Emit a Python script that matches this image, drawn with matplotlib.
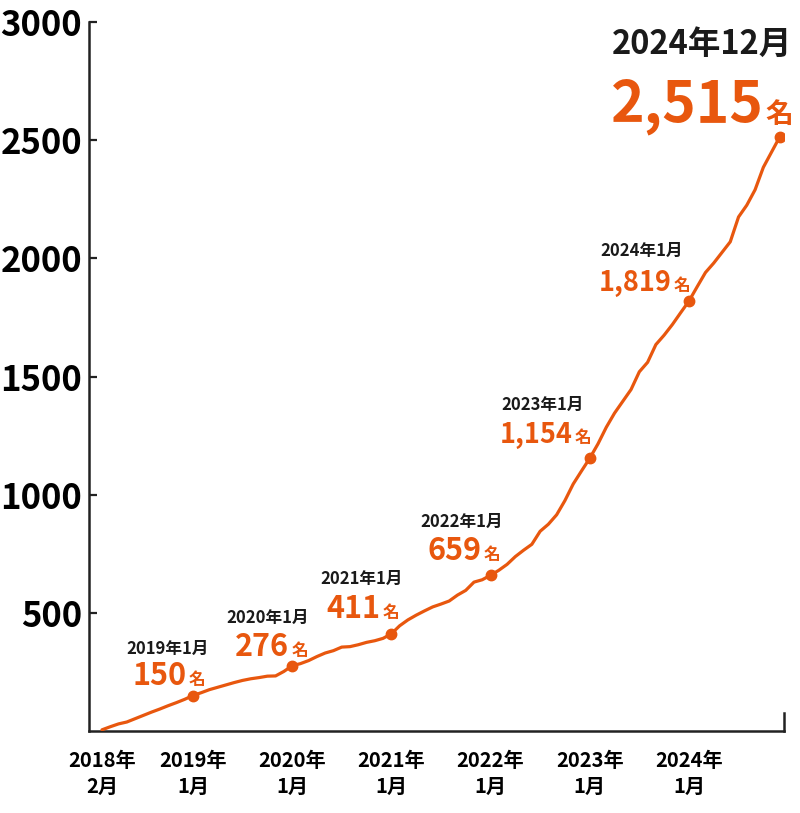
import matplotlib
matplotlib.use("Agg")
import matplotlib.pyplot as plt

plt.rcParams['font.family'] = ['Noto Sans CJK JP', 'DejaVu Sans']

ORANGE = '#E8570E'

# monthly totals, 2018-02 .. 2024-12
values_2018 = [5, 18, 30, 38, 52, 66, 80, 93, 107, 120, 134]            # Feb..Dec 2018
values_2019 = [150, 162, 175, 185, 195, 205, 214, 221, 226, 232, 233, 252]
values_2020 = [276, 285, 298, 315, 330, 340, 355, 357, 365, 375, 382, 392]
values_2021 = [411, 445, 470, 490, 508, 525, 537, 550, 575, 595, 630, 640]
values_2022 = [659, 680, 705, 738, 765, 790, 845, 875, 915, 975, 1045, 1100]
values_2023 = [1154, 1215, 1285, 1345, 1395, 1445, 1520, 1560, 1635, 1675, 1720, 1770]
values_2024 = [1819, 1880, 1940, 1980, 2025, 2070, 2175, 2225, 2290, 2385, 2450, 2515]
values = values_2018 + values_2019 + values_2020 + values_2021 + values_2022 + values_2023 + values_2024
months = list(range(len(values)))  # 0 = 2018-02

tick_months = [0, 11, 23, 35, 47, 59, 71]
tick_labels = ['2018年\n2月', '2019年\n1月', '2020年\n1月', '2021年\n1月',
               '2022年\n1月', '2023年\n1月', '2024年\n1月']

# highlighted points: month index, header, number
hl_months = [11, 23, 35, 47, 59, 71, 82]
hl_headers = ['2019年1月', '2020年1月', '2021年1月', '2022年1月', '2023年1月', '2024年1月', '2024年12月']
hl_numbers = ['150', '276', '411', '659', '1,154', '1,819', '2,515']

fig = plt.figure(figsize=(8, 8.13), dpi=100)
W, H = 800, 813
ax = fig.add_axes([89 / W, (H - 731) / H, (784 - 89) / W, (731 - 22) / H])

ax.plot(months, values, color=ORANGE, lw=2.3, solid_capstyle='round', zorder=3)
ax.plot(hl_months, [values[m] for m in hl_months], 'o', color=ORANGE, ms=7.5, zorder=4)

ax.set_xlim(-1.57, 82.5)
ax.set_ylim(0, 3000)
ax.set_yticks([500, 1000, 1500, 2000, 2500, 3000])
ax.set_xticks(tick_months)
ax.set_xticklabels(tick_labels, fontsize=14.5, fontweight='bold', linespacing=1.25)
ax.tick_params(axis='x', length=0, pad=14)
ax.tick_params(axis='y', direction='in', length=6, width=1.6, pad=5,
               labelsize=25, color='#222222')
for lab in ax.get_yticklabels():
    lab.set_fontweight('bold')

ax.spines['top'].set_visible(False)
for s in ['left', 'bottom', 'right']:
    ax.spines[s].set_linewidth(1.8)
    ax.spines[s].set_color('#222222')
ax.spines['right'].set_bounds(0, 75)

# offsets in pixels: (number split x, baseline y, header centre x, header baseline y)
offsets = [(-6, 11, -25, 42), (-3, 10, -24, 43), (-11, 16, -30, 50), (-9, 15, -29, 48),
           (-17, 15, -47, 48), (-17, 10, -47, 45), (-16, 14, -78, 83)]
num_sizes = [22, 22, 22, 22, 19.5, 19.5, 41]

for i, m in enumerate(hl_months):
    xy = (m, values[m])
    nx, ny, hx, hy = offsets[i]
    big = (i == len(hl_months) - 1)
    ax.annotate(hl_numbers[i], xy, xytext=(nx, ny), textcoords='offset pixels',
                ha='right', va='baseline', color=ORANGE, fontweight='bold',
                fontsize=num_sizes[i], annotation_clip=False)
    ax.annotate('名', xy, xytext=(nx + 2, ny), textcoords='offset pixels',
                ha='left', va='baseline', color=ORANGE, fontweight='bold',
                fontsize=20 if big else 12, annotation_clip=False)
    ax.annotate(hl_headers[i], xy, xytext=(hx, hy), textcoords='offset pixels',
                ha='center', va='baseline', color='#1a1a1a', fontweight='bold',
                fontsize=23.5 if big else 12, annotation_clip=False)

fig.savefig('out.png', dpi=100)
